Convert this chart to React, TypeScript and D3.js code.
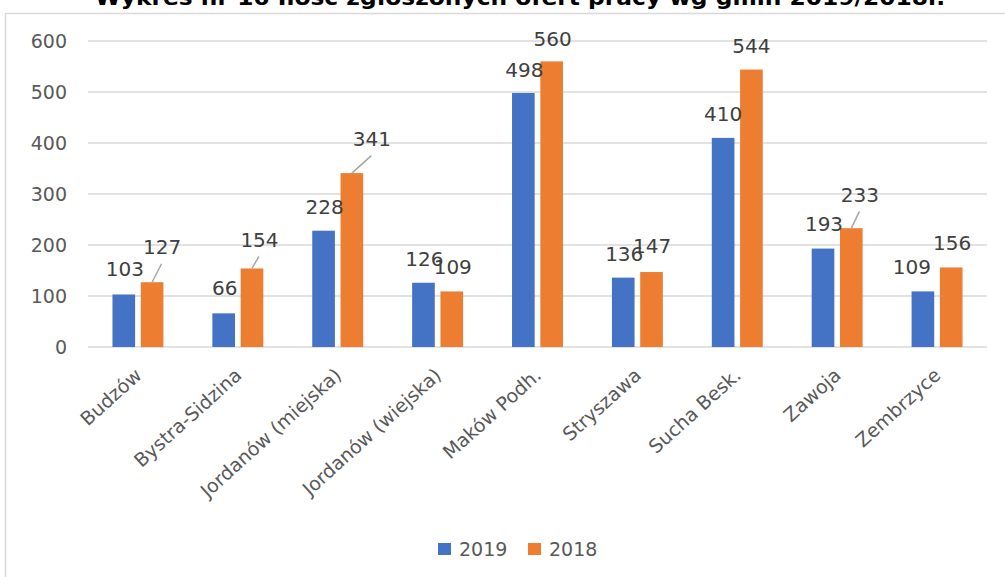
import React from "react";
import * as d3 from "d3";

const title = "Wykres nr 16 Ilość zgłoszonych ofert pracy wg gmin 2019/2018r.";
const categories = [
  "Budzów",
  "Bystra-Sidzina",
  "Jordanów (miejska)",
  "Jordanów (wiejska)",
  "Maków Podh.",
  "Stryszawa",
  "Sucha Besk.",
  "Zawoja",
  "Zembrzyce",
];
const seriesNames = ["2019", "2018"];
const values2019 = [103, 66, 228, 126, 498, 136, 410, 193, 109];
const values2018 = [127, 154, 341, 109, 560, 147, 544, 233, 156];
const yTicks = [0, 100, 200, 300, 400, 500, 600];

// label placement tweaks (dx, dy from bar top centre; leader = draw a leader line)
const labelDx2019 = [1, 1, 1, 1, 1, 1, 0, 1, -11];
const labelDy2019 = [-18, -18, -17, -17, -16, -17, -17, -18, -17];
const labelDx2018 = [10, 7.5, 20, 1, 1, 0.5, 0, 8.5, 1];
const labelDy2018 = [-28, -21.5, -27, -17, -15.5, -19, -16.5, -26, -17];
const leader2018 = [true, true, true, false, false, false, false, true, false];

const COLORS = ["#4472C4", "#ED7D31"];

export default function App() {
  const W = 1005;
  const H = 577;
  const left = 88;
  const right = 987;
  const yTop = 41;
  const yBottom = 347;

  const x0 = d3
    .scaleBand<string>()
    .domain(categories)
    .range([left, right])
    .paddingInner(0.49)
    .paddingOuter(0.245);
  const x1 = d3
    .scaleBand<string>()
    .domain(seriesNames)
    .range([0, x0.bandwidth()])
    .paddingInner(0.2);
  const y = d3.scaleLinear().domain([0, 600]).range([yBottom, yTop]);

  const series = [
    { name: "2019", values: values2019, dx: labelDx2019, dy: labelDy2019, leader: categories.map(() => false) },
    { name: "2018", values: values2018, dx: labelDx2018, dy: labelDy2018, leader: leader2018 },
  ];

  const font = "'DejaVu Sans', sans-serif";

  return (
    <svg
      width={W}
      height={H}
      style={{ position: "absolute", left: 0, top: 0, background: "#fff" }}
      fontFamily={font}
    >
      <rect x={5.5} y={13.5} width={1100} height={700} fill="#fff" stroke="#d9d9d9" strokeWidth={1.5} />
      <text
        x={520}
        y={5}
        textAnchor="middle"
        fontWeight="bold"
        fontSize={21}
        fill="#000"
        textLength={850}
        lengthAdjust="spacingAndGlyphs"
      >
        {title}
      </text>

      {yTicks.map((t) => (
        <g key={t}>
          <line x1={left} x2={right} y1={y(t)} y2={y(t)} stroke="#d9d9d9" strokeWidth={1.5} />
          <text x={67} y={y(t)} dy={7} textAnchor="end" fontSize={19} fill="#595959">
            {t}
          </text>
        </g>
      ))}

      {series.map((s, si) =>
        categories.map((c, i) => {
          const bx = (x0(c) as number) + (x1(s.name) as number);
          const bw = x1.bandwidth();
          const top = y(s.values[i]);
          return (
            <rect
              key={s.name + c}
              x={bx}
              y={top}
              width={bw}
              height={yBottom - top}
              fill={COLORS[si]}
            />
          );
        })
      )}

      {series.map((s) =>
        categories.map((c, i) => {
          const cx = (x0(c) as number) + (x1(s.name) as number) + x1.bandwidth() / 2;
          const top = y(s.values[i]);
          const lx = cx + s.dx[i];
          const ly = top + s.dy[i];
          return (
            <g key={"l" + s.name + c}>
              {s.leader[i] && (
                <line x1={cx} y1={top} x2={lx - 0.5} y2={ly + 9.5} stroke="#a6a6a6" strokeWidth={1.5} />
              )}
              <text x={lx} y={ly} textAnchor="middle" fontSize={20} fill="#404040">
                {s.values[i]}
              </text>
            </g>
          );
        })
      )}

      {categories.map((c) => {
        const cx = (x0(c) as number) + x0.bandwidth() / 2;
        return (
          <text
            key={"c" + c}
            transform={`translate(${cx + 5},${377}) rotate(-42)`}
            textAnchor="end"
            fontSize={19}
            fill="#595959"
          >
            {c}
          </text>
        );
      })}

      {seriesNames.map((n, i) => {
        const lx = 438 + i * 90;
        return (
          <g key={"lg" + n}>
            <rect x={lx} y={543} width={13} height={12} fill={COLORS[i]} />
            <text x={lx + 21} y={556} fontSize={19} fill="#595959">
              {n}
            </text>
          </g>
        );
      })}
    </svg>
  );
}
